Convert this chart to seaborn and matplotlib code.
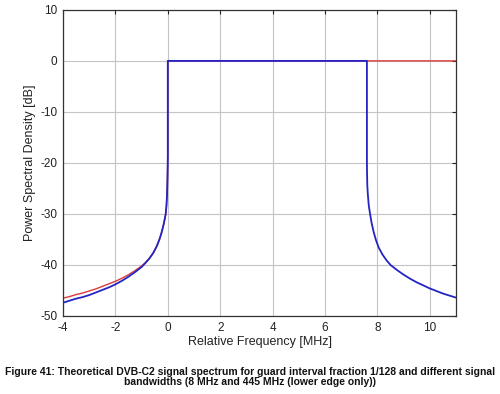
import numpy as np
import pandas as pd
import matplotlib
matplotlib.use("Agg")
import matplotlib.pyplot as plt
import seaborn as sns

# ---- values ----
# lower edge tail (MHz, dB)
left_freq = [-4.0, -3.75, -3.5, -3.25, -3.0, -2.75, -2.5, -2.25, -2.0, -1.75,
             -1.5, -1.25, -1.0, -0.85, -0.7, -0.55, -0.42, -0.32, -0.24, -0.17,
             -0.12, -0.08, -0.05, -0.03, -0.015, -0.005, 0.0]
blue_left_db = [-47.4, -47.0, -46.6, -46.3, -45.9, -45.4, -44.9, -44.4, -43.8, -43.1,
                -42.3, -41.4, -40.4, -39.6, -38.7, -37.6, -36.3, -35.0, -33.7, -32.3,
                -31.1, -30.0, -28.3, -26.3, -23.5, -20.5, -18.5]
red_left_db = [-46.5, -46.2, -45.8, -45.5, -45.1, -44.7, -44.2, -43.7, -43.2, -42.6,
               -41.9, -41.1, -40.2, -39.5, -38.7, -37.6, -36.3, -35.0, -33.7, -32.3,
               -31.1, -30.0, -28.3, -26.3, -23.5, -20.5, -18.5]

# in-band level
band_db = 0.0
blue_upper_edge = 7.6
red_upper_edge = 11.0

# upper edge tail of the narrow signal (MHz, dB)
right_freq = [7.6, 7.605, 7.615, 7.64, 7.67, 7.72, 7.78, 7.86, 7.95, 8.05,
              8.2, 8.35, 8.5, 8.75, 9.0, 9.25, 9.5, 9.75, 10.0, 10.25,
              10.5, 10.75, 11.0]
blue_right_db = [-20.0, -22.0, -24.5, -26.5, -28.3, -30.0, -31.8, -33.6, -35.2, -36.6,
                 -38.0, -39.1, -40.0, -41.0, -41.9, -42.7, -43.4, -44.0, -44.6, -45.1,
                 -45.6, -46.0, -46.4]

caption = ("Figure 41: Theoretical DVB-C2 signal spectrum for guard interval fraction 1/128 and different signal\n"
           "bandwidths (8 MHz and 445 MHz (lower edge only))")

# ---- build curves ----
red = pd.DataFrame({
    "freq": left_freq + [0.0, red_upper_edge],
    "psd": red_left_db + [band_db, band_db],
})
blue = pd.DataFrame({
    "freq": left_freq + [0.0, blue_upper_edge] + right_freq,
    "psd": blue_left_db + [band_db, band_db] + blue_right_db,
})

sns.set_style("white")
plt.rcParams["font.family"] = ["Liberation Sans", "DejaVu Sans"]
plt.rcParams["axes.unicode_minus"] = False

fig = plt.figure(figsize=(5.0, 3.94), dpi=100)
ax = fig.add_axes([0.126, 0.198, 0.786, 0.777])

sns.lineplot(data=red, x="freq", y="psd", color="#d83a3a", linewidth=1.0,
             estimator=None, sort=False, ax=ax)
sns.lineplot(data=blue, x="freq", y="psd", color="#2424c4", linewidth=1.3,
             estimator=None, sort=False, ax=ax)

ax.set_xlim(-4, 11)
ax.set_ylim(-50, 10)
ax.set_xticks(np.arange(-4, 11, 2))
ax.set_yticks(np.arange(-50, 11, 10))
ax.grid(True, color="#c4c4c4", linewidth=0.8)
ax.set_axisbelow(True)
for s in ax.spines.values():
    s.set_color("#333333")
    s.set_linewidth(0.9)
ax.tick_params(direction="in", length=3, top=True, right=True,
               labelsize=8.5, colors="#222222")
ax.tick_params(axis="x", pad=4)
ax.tick_params(axis="y", pad=4)
ax.set_xlabel("Relative Frequency [MHz]", fontsize=9, labelpad=2, color="#222222")
ax.set_ylabel("Power Spectral Density [dB]", fontsize=9, labelpad=3, color="#222222")

fig.text(0.5, 0.043, caption, ha="center", va="center", multialignment="center",
         fontsize=7.5, fontweight="bold", color="#111111", linespacing=1.1)

fig.savefig("out.png", dpi=100, facecolor="white")
